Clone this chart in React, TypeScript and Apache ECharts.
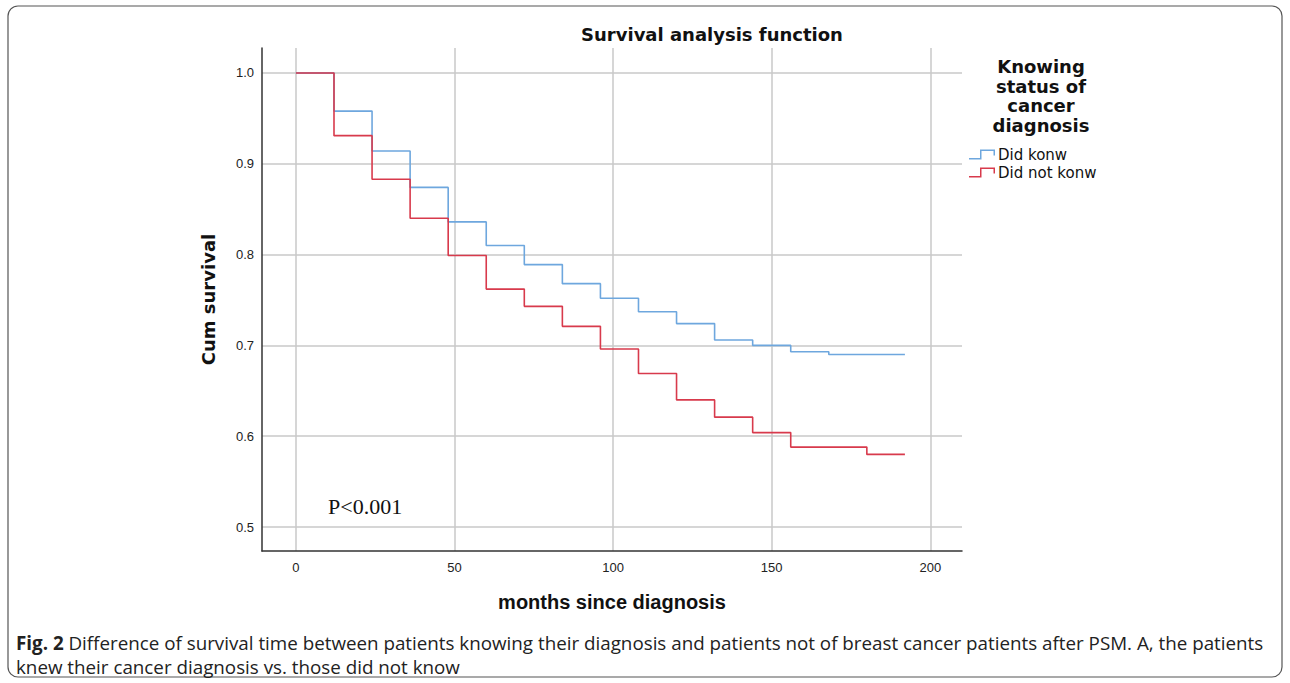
import React, { useEffect, useRef } from "react";
import * as echarts from "echarts";

const months = [0, 12, 24, 36, 48, 60, 72, 84, 96, 108, 120, 132, 144, 156, 168, 180, 192];
const knewSurvival = [1.0, 0.958, 0.914, 0.874, 0.836, 0.81, 0.789, 0.768, 0.752, 0.737, 0.724, 0.706, 0.7, 0.693, 0.69, 0.69, 0.69];
const notKnewSurvival = [1.0, 0.931, 0.883, 0.84, 0.799, 0.762, 0.743, 0.721, 0.696, 0.669, 0.64, 0.621, 0.604, 0.588, 0.588, 0.58, 0.58];
const seriesNames = ["Did konw", "Did not konw"];
const seriesColors = ["#6ea7de", "#d83a4c"];
const chartTitle = "Survival analysis function";
const legendTitle = "Knowing\nstatus of\ncancer\ndiagnosis";
const xName = "months since diagnosis";
const yName = "Cum survival";
const pText = "P<0.001";
const captionBold = "Fig. 2";
const captionLine1 = " Difference of survival time between patients knowing their diagnosis and patients not of breast cancer patients after PSM. A, the patients";
const captionLine2 = "knew their cancer diagnosis vs. those did not know";

const sans = "'Liberation Sans', sans-serif";
const dejavu = "'DejaVu Sans', sans-serif";
const caption = "'Open Sans', sans-serif";

export default function App() {
  const ref = useRef<HTMLDivElement>(null);
  useEffect(() => {
    if (!ref.current) return;
    const chart = echarts.init(ref.current, undefined, { renderer: "svg" });
    const stepIcon = "path://M0,8.5 L11,8.5 L11,0 L26,0 L26,6 L24.5,6 L24.5,1.5 L12.5,1.5 L12.5,10 L0,10 Z";
    const mk = (vals: number[], i: number) => ({
      name: seriesNames[i],
      type: "line",
      step: "end",
      symbol: "none",
      data: months.map((m, k) => [m, vals[k]]),
      lineStyle: { color: seriesColors[i], width: 1.6 },
      itemStyle: { color: seriesColors[i] },
      z: 3,
    });
    chart.setOption({
      animation: false,
      backgroundColor: "#ffffff",
      title: {
        text: chartTitle,
        left: 707,
        top: 20,
        textAlign: "center",
        textStyle: { fontFamily: dejavu, fontWeight: "bold", fontSize: 18, color: "#111" },
      },
      grid: { left: 262, top: 48, right: 328, bottom: 132 },
      legend: {
        orient: "vertical",
        left: 964,
        top: 142,
        itemWidth: 26,
        itemHeight: 10,
        itemGap: 3,
        icon: stepIcon,
        itemStyle: { borderWidth: 0 },
        textStyle: { fontFamily: dejavu, fontSize: 15, color: "#111", padding: [0, 0, 0, -2] },
        data: seriesNames,
      },
      xAxis: {
        type: "value",
        min: -10.7,
        max: 210,
        name: xName,
        nameLocation: "middle",
        nameGap: 41,
        nameTextStyle: { fontFamily: sans, fontWeight: "bold", fontSize: 20, color: "#111" },
        axisLine: { show: true, onZero: false, lineStyle: { color: "#333", width: 1.5 } },
        axisTick: { show: false },
        axisLabel: {
          showMinLabel: false,
          showMaxLabel: false,
          margin: 10,
          fontFamily: sans,
          fontSize: 13,
          color: "#222",
        },
        splitLine: { show: true, showMinLine: false, showMaxLine: false, lineStyle: { color: "#c9c9c9", width: 1.5 } },
      },
      yAxis: {
        type: "value",
        min: 0.4736,
        max: 1.0275,
        name: yName,
        nameLocation: "middle",
        nameGap: 45,
        nameTextStyle: { fontFamily: dejavu, fontWeight: "bold", fontSize: 18, color: "#111" },
        axisLine: { show: true, onZero: false, lineStyle: { color: "#333", width: 1.5 } },
        axisTick: { show: false },
        axisLabel: {
          showMinLabel: false,
          showMaxLabel: false,
          margin: 8,
          fontFamily: sans,
          fontSize: 13,
          color: "#222",
          formatter: (v: number) => v.toFixed(1),
        },
        splitLine: { show: true, showMinLine: false, showMaxLine: false, lineStyle: { color: "#c9c9c9", width: 1.5 } },
      },
      series: [mk(knewSurvival, 0), mk(notKnewSurvival, 1)],
      graphic: [
        {
          type: "rect",
          shape: { x: 8, y: 6, width: 1274, height: 671, r: 10 },
          style: { fill: "none", stroke: "#555", lineWidth: 1.2 },
          silent: true,
        },
        {
          type: "text",
          x: 1041,
          y: 57,
          style: {
            text: legendTitle,
            textAlign: "center",
            fontFamily: dejavu,
            fontWeight: "bold",
            fontSize: 18,
            lineHeight: 19.5,
            fill: "#111",
          },
        },
        {
          type: "text",
          x: 328,
          y: 495,
          style: { text: pText, fontFamily: "'Liberation Serif', serif", fontSize: 22, fill: "#111" },
        },
        {
          type: "text",
          x: 16,
          y: 632,
          style: {
            text: "{b|" + captionBold + "}{n|" + captionLine1 + "}",
            rich: {
              b: { fontFamily: caption, fontWeight: "bold", fontSize: 18.8, lineHeight: 22, fill: "#222" },
              n: { fontFamily: caption, fontSize: 18.8, lineHeight: 22, fill: "#222" },
            },
          },
        },
        {
          type: "text",
          x: 16,
          y: 656,
          style: { text: captionLine2, fontFamily: caption, fontSize: 18.8, lineHeight: 22, fill: "#222" },
        },
      ],
    });
    return () => chart.dispose();
  }, []);
  return (
    <div
      ref={ref}
      style={{ position: "fixed", left: 0, top: 0, width: 1290, height: 683, background: "#fff" }}
    />
  );
}
